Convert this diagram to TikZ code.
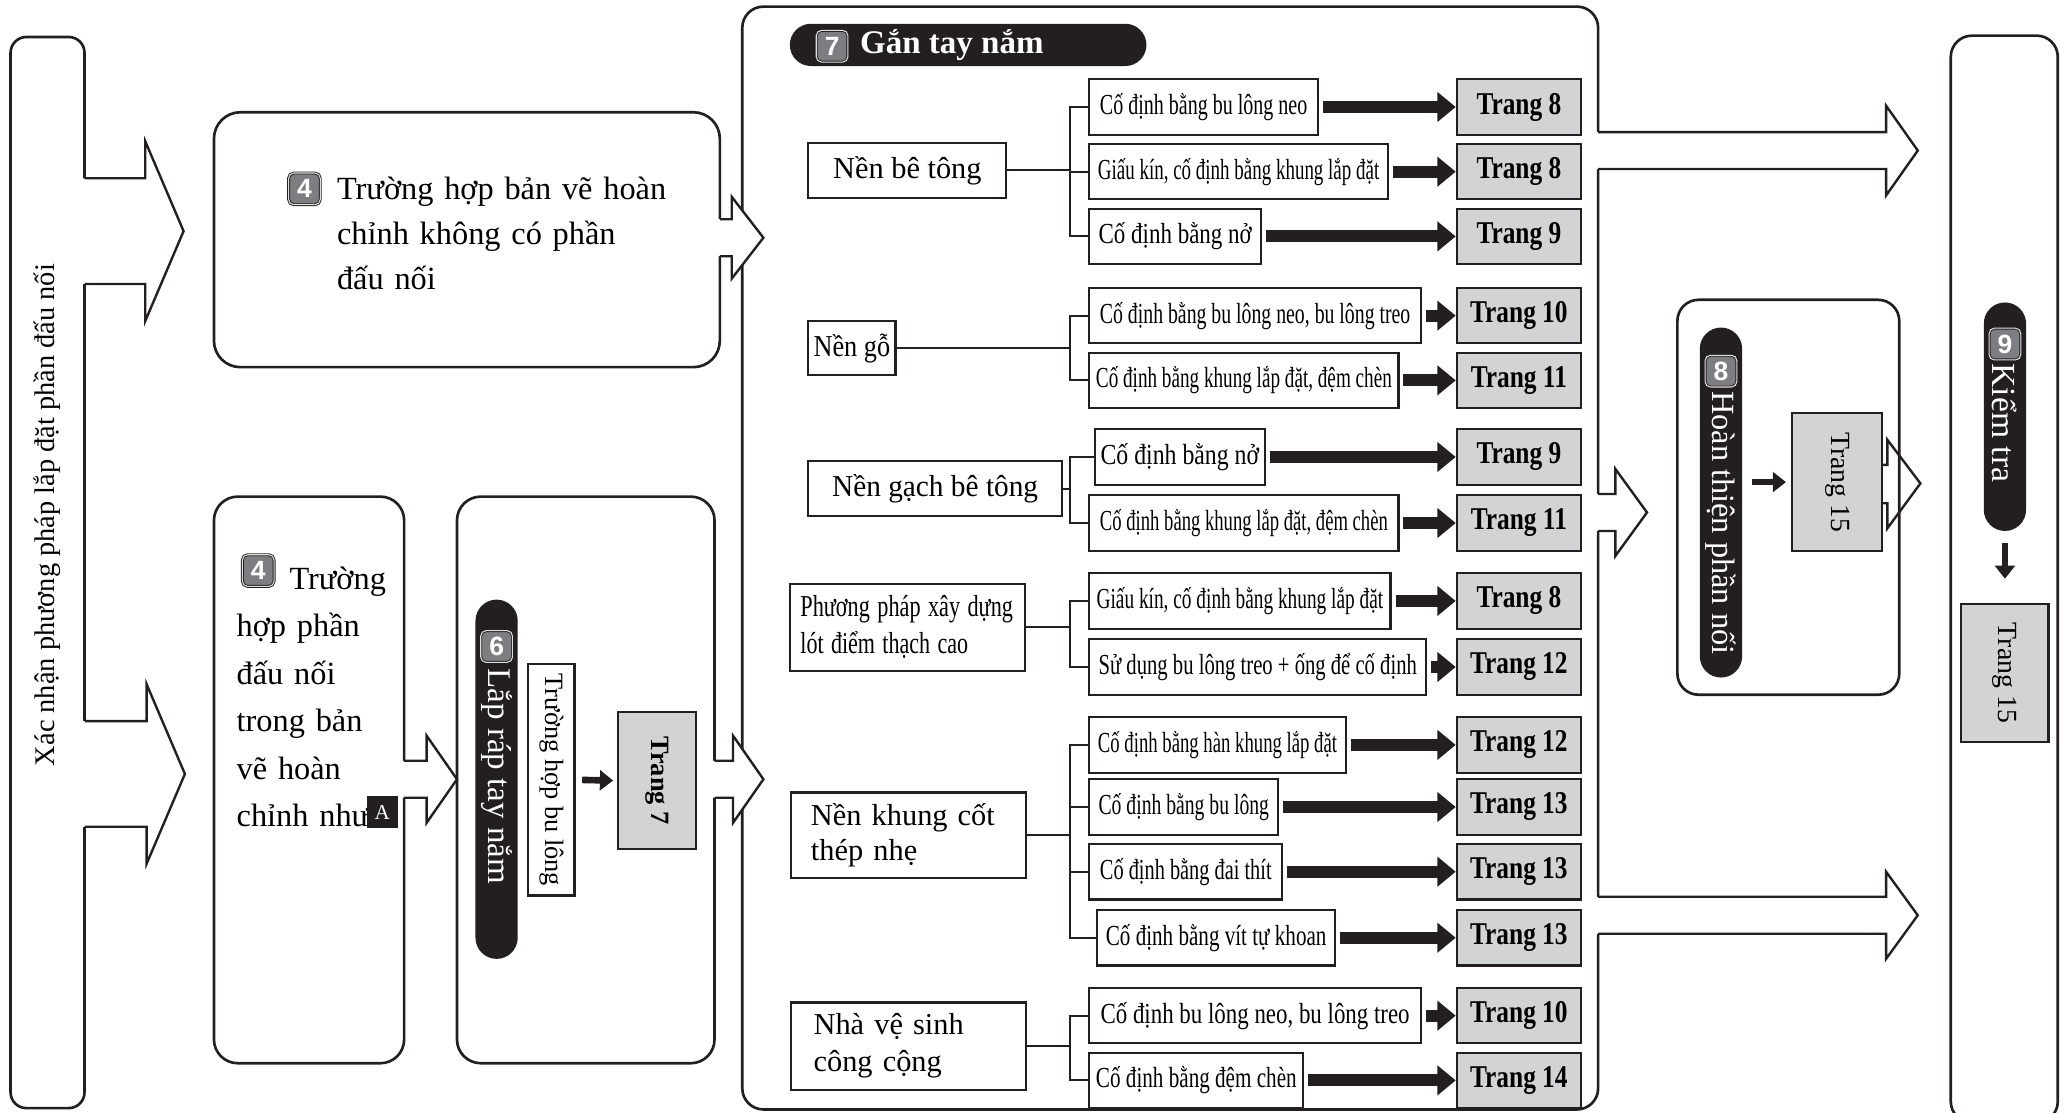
\documentclass[tikz,border=0pt]{standalone}
\usepackage{fontspec}
\setmainfont{Liberation Serif}
\newfontfamily\sansfont{Liberation Sans}
\newfontfamily\narrowfont[FakeStretch=0.8]{Liberation Serif}
\usetikzlibrary{arrows.meta}

\definecolor{ink}{HTML}{231F20}
\definecolor{panel}{HTML}{D1D3D4}
\definecolor{chipgray}{HTML}{7D7E81}

% squeeze a text to a given width
\newcommand{\sq}[2]{\resizebox{#1pt}{\height}{#2}}
% open block arrow: start x, base x, tip x, mid y, half shaft, half head
\newcommand{\blockarrow}[6]{%
  \fill[white] (#1-2,#4-#5) -- (#2,#4-#5) -- (#2,#4-#6) -- (#3,#4) -- (#2,#4+#6) -- (#2,#4+#5) -- (#1-2,#4+#5) -- cycle;
  \draw[outline] (#1,#4-#5) -- (#2,#4-#5) -- (#2,#4-#6) -- (#3,#4) -- (#2,#4+#6) -- (#2,#4+#5) -- (#1,#4+#5);}

\begin{document}
\begin{tikzpicture}[x=1pt, y=-1pt, every node/.style={inner sep=0pt},
  container/.style={draw=ink, line width=2pt, rounded corners=16pt},
  outline/.style={draw=ink, line width=1.8pt, line join=miter},
  pill/.style={fill=ink, rounded corners=16pt},
  chip/.style={draw=ink, line width=0.7pt, double=white!75!gray, double distance=0.8pt, fill=chipgray, rounded corners=4pt, minimum size=24pt, text=white, font=\sansfont\bfseries\fontsize{20}{20}\selectfont},
  boxed/.style={draw=ink, line width=1.6pt},
  ground/.style={boxed, font=\fontsize{23}{28}\selectfont},
  method/.style={boxed, anchor=west, minimum height=42pt, font=\fontsize{22}{26}\selectfont},
  pagebox/.style={boxed, fill=panel},
  trang/.style={pagebox, minimum width=94pt, minimum height=42pt, font=\narrowfont\bfseries\fontsize{24}{28}\selectfont},
  link/.style={draw=ink, line width=1.6pt},
  fatarrow/.style={draw=ink, line width=9pt, -{Triangle[length=14pt, width=22pt]}},
  thinarrow/.style={draw=ink, line width=5pt, -{Triangle[length=10pt, width=15pt]}}]
	\useasboundingbox (0,0) rectangle (1565,842);

	% Containers
	\draw[container, rounded corners=12pt] (8,28) rectangle (64,839);
	\draw[container, rounded corners=20pt] (162,85) rectangle (545,278);
	\draw[container, rounded corners=18pt] (162,376) rectangle (306,805);
	\draw[container, rounded corners=18pt] (346,376) rectangle (541,805);
	\draw[container] (562,5) rectangle (1210,840);
	\draw[container] (1270,227) rectangle (1438,526);
	\draw[container] (1477,27) rectangle (1558,850);

	% Block arrows between containers
	\blockarrow{64}{110}{139}{175}{40}{68}
	\blockarrow{64}{111}{140}{586}{40}{68}
	\blockarrow{545}{554}{578}{180}{14}{31}
	\blockarrow{306}{323}{346}{590}{14}{33}
	\blockarrow{541}{555}{578}{590}{14}{33}
	\blockarrow{1210}{1428}{1452}{114}{14}{34}
	\blockarrow{1210}{1223}{1247}{388}{14}{33}
	\blockarrow{1210}{1428}{1452}{693}{14}{33}

	% Step 1 and 4
	\node[rotate=90, font=\fontsize{21.5}{26}\selectfont] (verify) at (36,390) {Xác nhận phương pháp lắp đặt phần đấu nối};
	\node[chip] (n4a) at (230.5,143) {4};
	\node[anchor=base west, text width=285pt, align=left, font=\fontsize{24.5}{34}\selectfont] (full) at (255,151) {Trường hợp bản vẽ hoàn\\chỉnh không có phần\\đấu nối};
	\node[chip] (n4b) at (195.5,432) {4};
	\node[anchor=base west, text width=125pt, align=left, font=\fontsize{24.5}{36}\selectfont] (part) at (179,446) {\hspace*{40pt}Trường\\hợp phần\\đấu nối\\trong bản\\vẽ hoàn\\chỉnh như};
	\node[fill=ink, text=white, minimum width=23pt, minimum height=24pt, font=\fontsize{16}{16}\selectfont] (markA) at (289.5,615) {A};

	% Step 6
	\node[pill, minimum width=32pt, minimum height=272pt] (pill6) at (376,590) {};
	\node[chip] (n6) at (376,489.5) {6};
	\node[rotate=-90, anchor=west, text=white, font=\fontsize{25}{30}\selectfont] (mount) at (376,506) {Lắp ráp tay nắm};
	\node[boxed, minimum width=35pt, minimum height=175pt, font=\fontsize{20}{24}\selectfont] (bolt) at (417.5,590.5) {\rotatebox{-90}{Trường hợp bu lông}};
	\node[pagebox, minimum width=59pt, minimum height=104pt, font=\bfseries\fontsize{20}{24}\selectfont] (p7) at (497.5,591) {\rotatebox{-90}{Trang 7}};
	\draw[thinarrow] ([xshift=5pt]bolt.east) -- ([xshift=-3pt]p7.west);

	% Step 7
	\node[pill, minimum width=270pt, minimum height=32pt] (head7) at (733,34) {};
	\node[chip] (n7) at (630,35) {7};
	\node[anchor=west, text=white, font=\bfseries\fontsize{25}{30}\selectfont] (attach) at (651,34) {Gắn tay nắm};

	\node[ground, minimum width=150pt, minimum height=42pt] (b1) at (687,129) {Nền bê tông};
	\node[ground, minimum width=66pt, minimum height=41pt] (b2) at (645,263.5) {\sq{58}{Nền gỗ}};
	\node[ground, minimum width=192pt, minimum height=42pt] (b3) at (708,370) {\sq{156}{Nền gạch bê tông}};
	\node[ground, minimum width=178pt, minimum height=66pt, inner xsep=8pt, text width=162pt, align=left] (b4) at (687,475) {\sq{161}{Phương pháp xây dựng}\\\sq{127}{lót điểm thạch cao}};
	\node[ground, minimum width=178pt, minimum height=65pt, inner xsep=15pt, text width=148pt, align=left, font=\fontsize{23}{27}\selectfont] (b5) at (688,632.5) {Nền khung cốt\\thép nhẹ};
	\node[ground, minimum width=178pt, minimum height=66pt, inner xsep=17pt, text width=144pt, align=left] (b6) at (688,792) {Nhà vệ sinh\\công cộng};

	\foreach \id/\x/\y/\w/\tw/\txt/\pg in {
		11/824/81/173/157/{Cố định bằng bu lông neo}/8,
		12/824/130/226/213/{Giấu kín, cố định bằng khung lắp đặt}/8,
		13/824/179/130/116/{Cố định bằng nở}/9,
		21/824/239/251/235/{Cố định bằng bu lông neo, bu lông treo}/10,
		22/824/288/234/224/{Cố định bằng khung lắp đặt, đệm chèn}/11,
		31/828/346/129/120/{Cố định bằng nở}/9,
		32/824/396/234/218/{Cố định bằng khung lắp đặt, đệm chèn}/11,
		41/824/455/228/217/{Giấu kín, cố định bằng khung lắp đặt}/8,
		42/824/505/255/241/{Sử dụng bu lông treo + ống để cố định}/12,
		51/824/564/194/181/{Cố định bằng hàn khung lắp đặt}/12,
		52/824/611/143/129/{Cố định bằng bu lông}/13,
		53/824/660/146/130/{Cố định bằng đai thít}/13,
		54/830/710/180/167/{Cố định bằng vít tự khoan}/13,
		61/824/769/251/234/{Cố định bu lông neo, bu lông treo}/10,
		62/824/818/162/152/{Cố định bằng đệm chèn}/14} {
		\node[method, minimum width=\w] (c\id) at (\x,\y) {\sq{\tw}{\txt}};
		\node[trang] (t\id) at (1150,\y) {Trang \pg};
		\draw[fatarrow] ([xshift=3pt]c\id.east) -- (t\id.west);
	}

	% Brackets
	\coordinate (spine) at (810,0);
	\foreach \p/\a/\b in {1/11/13, 2/21/22, 3/31/32, 4/41/42, 5/51/54, 6/61/62} {
		\draw[link] (b\p.east) -- (b\p.east -| spine);
		\draw[link] (c\a.west) -- (c\a.west -| spine) -- (c\b.west -| spine) -- (c\b.west);
	}
	\foreach \c in {12,52,53} {
		\draw[link] (c\c.west) -- (c\c.west -| spine);
	}

	% Step 8
	\node[pill, minimum width=32pt, minimum height=265pt] (pill8) at (1303,380.5) {};
	\node[chip] (n8) at (1303,281) {8};
	\node[rotate=-90, anchor=west, text=white, font=\fontsize{24.5}{30}\selectfont] (finish) at (1303,296) {Hoàn thiện phần nối};
	\node[pagebox, minimum width=68pt, minimum height=104pt, font=\fontsize{21}{24}\selectfont] (p15a) at (1391,365) {\rotatebox{-90}{Trang 15}};
	\coordinate (s8) at (pill8.east |- p15a.west);
	\draw[thinarrow] ([xshift=7pt]s8) -- ([xshift=-4pt]p15a.west);
	\draw[outline] (1425,352) -- (1429,352) -- (1429,333) -- (1454,366) -- (1429,400) -- (1429,381) -- (1425,381);

	% Step 9
	\node[pill, minimum width=32pt, minimum height=173pt] (pill9) at (1518,315.5) {};
	\node[chip] (n9) at (1518,260.5) {9};
	\node[rotate=-90, anchor=west, text=white, font=\fontsize{25.5}{30}\selectfont] (check) at (1518,275) {Kiểm tra};
	\node[pagebox, minimum width=66pt, minimum height=105pt, font=\fontsize{21}{24}\selectfont] (p15b) at (1518,509.5) {\rotatebox{-90}{Trang 15}};
	\draw[thinarrow] ([yshift=-9pt]pill9.south) -- ([yshift=18pt]p15b.north);
\end{tikzpicture}
\end{document}
